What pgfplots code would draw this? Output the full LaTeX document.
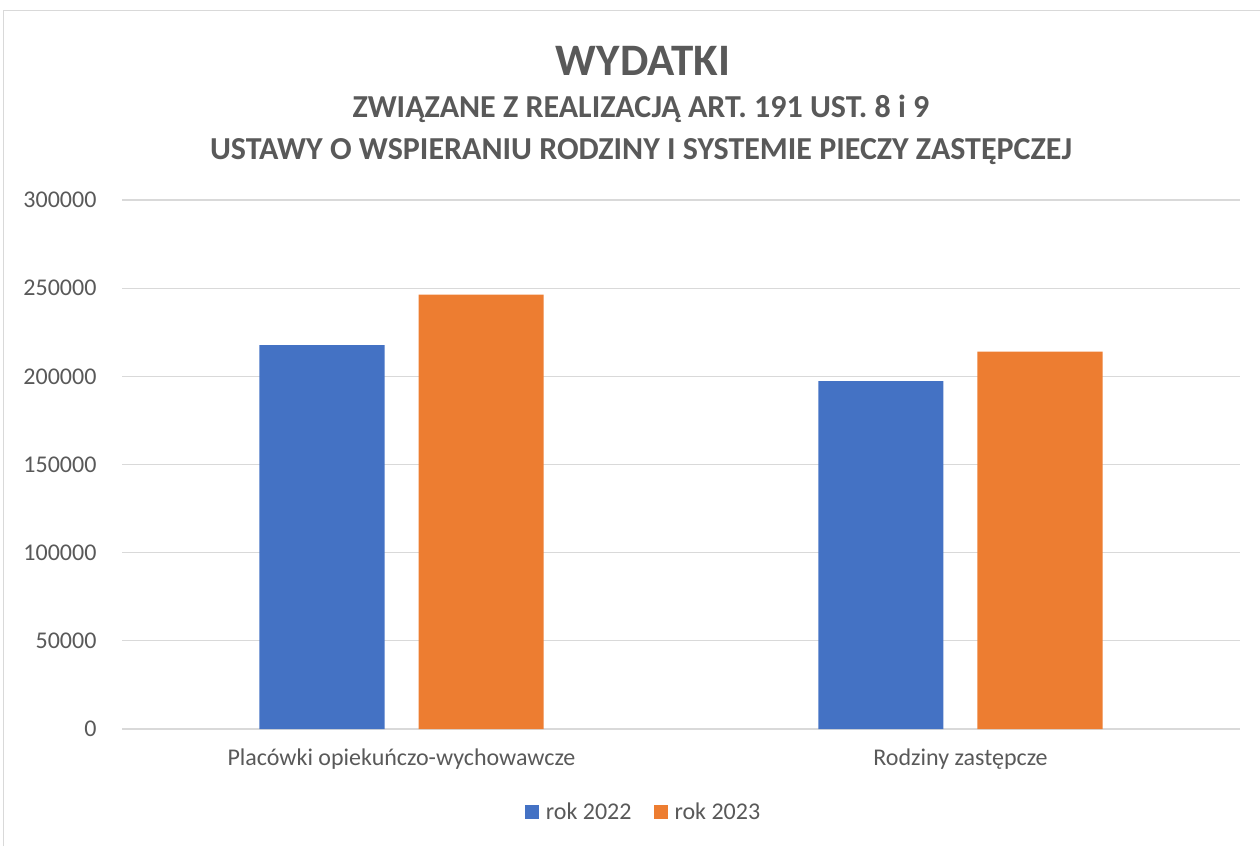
\documentclass[border=0pt]{standalone}
\usepackage{pgfplots}
\pgfplotsset{compat=1.18}
\usepackage{fontspec}
\setmainfont{Carlito}
\definecolor{txt}{HTML}{595959}
\definecolor{gridc}{HTML}{D9D9D9}
\definecolor{cblue}{HTML}{4472C4}
\definecolor{corange}{HTML}{ED7D31}
\begin{document}
\begin{tikzpicture}
\path[use as bounding box] (0pt,0pt) rectangle (1260pt,-846pt);
\draw[gridc,line width=1.5pt] (3.5pt,-846pt) -- (3.5pt,-10.5pt) -- (1260pt,-10.5pt);
\node[anchor=base,text=txt,font=\fontsize{45}{50}\selectfont\bfseries] at (643pt,-75pt) {WYDATKI};
\node[anchor=base,text=txt,font=\fontsize{32}{36}\selectfont\bfseries] at (641pt,-117pt) {ZWIĄZANE Z REALIZACJĄ ART. 191 UST. 8 i 9};
\node[anchor=base,text=txt,font=\fontsize{32}{36}\selectfont\bfseries] at (641pt,-159pt) {USTAWY O WSPIERANIU RODZINY I SYSTEMIE PIECZY ZASTĘPCZEJ};
\begin{axis}[
  at={(122pt,-729pt)}, anchor=south west,
  scale only axis, width=1118pt, height=529pt,
  xmin=-0.5, xmax=1.5, ymin=0, ymax=300000,
  xtick={0,1}, xticklabels={Placówki opiekuńczo-wychowawcze, Rodziny zastępcze},
  ytick={0,50000,100000,150000,200000,250000,300000},
  scaled y ticks=false,
  yticklabel style={/pgf/number format/fixed,/pgf/number format/1000 sep={}},
  /pgf/number format/assume math mode=true,
  axis line style={draw=none},
  major tick length=0pt,
  ymajorgrids, grid style={gridc,line width=1.3pt},
  tick label style={text=txt,font=\fontsize{24}{28}\selectfont},
  yticklabel style={xshift=-22pt},
  xticklabel style={yshift=-16pt},
  legend style={at={(0.4665,-0.157)},anchor=center,draw=none,legend columns=2,
    font=\fontsize{24}{28}\selectfont,text=txt,
    /tikz/every even column/.append style={column sep=20pt},
    /tikz/every odd column/.append style={column sep=5pt}},
  legend image code/.code={\fill[#1] (0pt,-7pt) rectangle (14pt,7pt);},
]
\addplot[ybar,fill=cblue,draw=none,bar width=125pt,bar shift=-79.5pt] coordinates {(0,217700) (1,197350)};
\addplot[ybar,fill=corange,draw=none,bar width=125pt,bar shift=79.5pt] coordinates {(0,246300) (1,214000)};
\legend{rok 2022, rok 2023}
\end{axis}
\end{tikzpicture}
\end{document}
